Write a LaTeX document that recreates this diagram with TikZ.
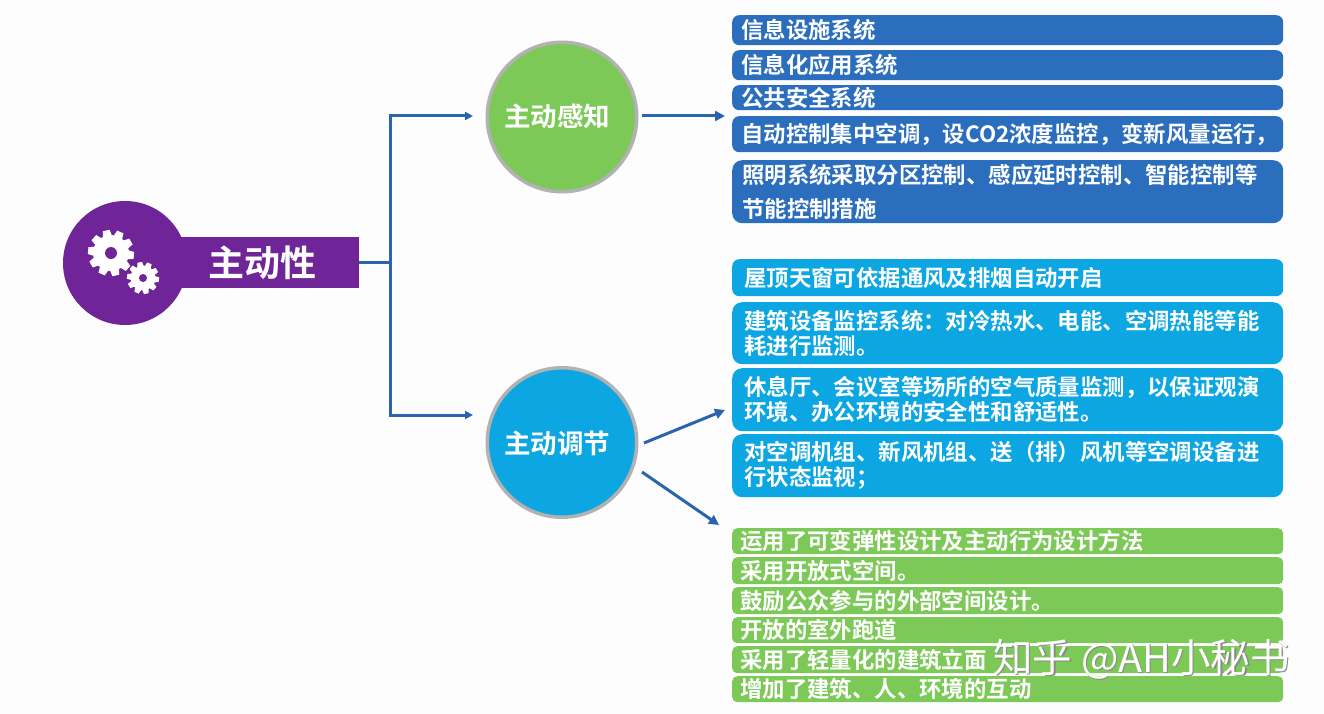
\documentclass[tikz,border=0pt]{standalone}
\usepackage{fontspec}
\setmainfont{Noto Sans CJK SC}[BoldFont={Noto Sans CJK SC Bold}]
\usetikzlibrary{arrows.meta}
\definecolor{bgc}{HTML}{FDFDFE}
\definecolor{bluec}{HTML}{2A6EBD}
\definecolor{cyanc}{HTML}{0CA6E2}
\definecolor{greenc}{HTML}{7CC957}
\definecolor{purplec}{HTML}{6F2597}
\definecolor{arrowc}{HTML}{2B64AE}
\definecolor{ringc}{HTML}{B2B2B2}
\definecolor{shadowc}{HTML}{8A8A8A}
\tikzset{
  x=1pt,y=-1pt,
  itembox/.style={rounded corners=7pt,anchor=north west,minimum width=551pt,
    text=white,font=\fontsize{22.4}{25}\selectfont\bfseries,align=left,
    text width=533pt,inner ysep=0pt,inner xsep=9pt},
  blueitem/.style={itembox,fill=bluec},
  cyanitem/.style={itembox,fill=cyanc,inner xsep=12pt,text width=527pt},
  greenitem/.style={itembox,fill=greenc,inner xsep=8pt,text width=535pt,rounded corners=5pt},
  topic/.style={circle,draw=ringc,line width=3.5pt,minimum size=149.5pt,inner sep=0pt},
  topiclabel/.style={text=white,font=\fontsize{26.5}{30}\selectfont\bfseries,inner sep=0pt},
  conn/.style={draw=arrowc,line width=3pt},
  arr/.style={conn,-{Triangle[length=10pt,width=10pt]}},
  elbow/.style={draw=arrowc,line width=3pt,-{Triangle[length=8pt,width=8pt]}},
  mark text/.style={font=\fontsize{39.5}{42}\selectfont}
}
\newcommand{\gearat}[4]{% x, y, outer radius, hole radius
  \begin{scope}[shift={(#1,#2)}]
    \foreach \a in {0,36,...,324}{
      \fill[white,rotate=\a+12] (-0.2*#3,-0.72*#3) -- (-0.15*#3,-#3) -- (0.15*#3,-#3) -- (0.2*#3,-0.72*#3) -- cycle;
    }
    \fill[white] (0,0) circle[radius=0.78*#3];
    \fill[purplec] (0,0) circle[radius=#4];
  \end{scope}
}
\begin{document}
\begin{tikzpicture}
\useasboundingbox (0,0) rectangle (1324,714);
\fill[bgc] (0,0) rectangle (1324,714);
% main
\fill[purplec] (125,263) circle[radius=62];
\node[fill=purplec,minimum width=210pt,minimum height=51pt,inner sep=0pt,anchor=east,text=white,
  font=\fontsize{36}{38}\selectfont\bfseries,text width=190pt,align=right] (main) at (359,262.5) {主动性\hspace*{32pt}};
\gearat{111}{253}{23}{6}
\gearat{143}{278}{16}{4}
% circles
\node[topic,fill=greenc] (sense) at (562,117) {};
\node[topic,fill=cyanc] (adjust) at (562,442.5) {};
\node[topiclabel] (senseText) at (557,116) {主动感知};
\node[topiclabel] (adjustText) at (557,443) {主动调节};
% blue
\node[blueitem,minimum height=30pt] (b1) at (732,15) {信息设施系统};
\node[blueitem,minimum height=30pt] (b2) at (732,50) {信息化应用系统};
\node[blueitem,minimum height=25pt] (b3) at (732,85) {公共安全系统};
\node[blueitem,minimum height=36pt] (b4) at (732,116) {自动控制集中空调，设CO2浓度监控，变新风量运行，};
\node[blueitem,minimum height=63pt,inner xsep=10pt,text width=531pt,font=\fontsize{22.4}{35}\selectfont\bfseries,rounded corners=10pt] (b5) at (732,160) {照明系统采取分区控制、感应延时控制、智能控制等\\[-1pt]节能控制措施};
% cyan
\node[cyanitem,minimum height=37pt] (c1) at (732,259) {屋顶天窗可依据通风及排烟自动开启};
\node[cyanitem,minimum height=62pt,rounded corners=10pt] (c2) at (732,302) {建筑设备监控系统：对冷热水、电能、空调热能等能\\耗进行监测。};
\node[cyanitem,minimum height=63pt,rounded corners=10pt] (c3) at (732,368) {休息厅、会议室等场所的空气质量监测，以保证观演\\环境、办公环境的安全性和舒适性。};
\node[cyanitem,minimum height=63pt,rounded corners=10pt] (c4) at (732,434) {对空调机组、新风机组、送（排）风机等空调设备进\\行状态监视；};
% green
\node[greenitem,minimum height=26pt] (g1) at (732,528) {运用了可变弹性设计及主动行为设计方法};
\node[greenitem,minimum height=27pt] (g2) at (732,557) {采用开放式空间。};
\node[greenitem,minimum height=27pt] (g3) at (732,587) {鼓励公众参与的外部空间设计。};
\node[greenitem,minimum height=26pt] (g4) at (732,617) {开放的室外跑道};
\node[greenitem,minimum height=27pt] (g5) at (732,646) {采用了轻量化的建筑立面};
\node[greenitem,minimum height=26pt] (g6) at (732,676) {增加了建筑、人、环境的互动};
% connectors
\coordinate (hub) at (390,262.5);
\coordinate (senseIn) at (473,116);
\coordinate (adjustIn) at (473,415);
\coordinate (s1) at (642,116);
\coordinate (s2) at (725,116);
\coordinate (a1) at (644,443);
\coordinate (a2) at (725,410);
\coordinate (a3) at (642,472);
\coordinate (a4) at (719,525);
\draw[conn] (main.east) -- (hub);
\draw[elbow] (hub) |- (senseIn);
\draw[elbow] (hub) |- (adjustIn);
\draw[arr] (s1) -- (s2);
\draw[arr] (a1) -- (a2);
\draw[arr] (a3) -- (a4);
% watermark
\node[mark text,text=shadowc,anchor=west,inner sep=0pt] (wmshadow) at (994.5,660.5) {知乎 @AH小秘书};
\node[mark text,text=white,anchor=west,inner sep=0pt] (wm) at (993,659) {知乎 @AH小秘书};
\end{tikzpicture}
\end{document}
